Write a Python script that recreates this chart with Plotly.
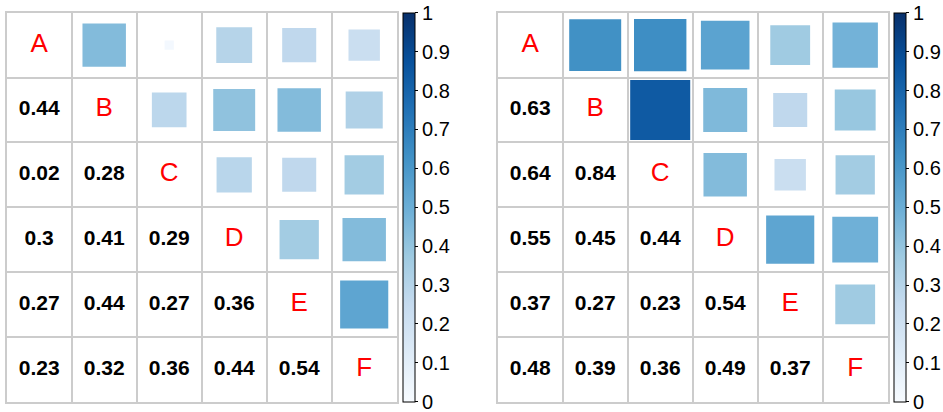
import math
import plotly.graph_objects as go

labels = ["A", "B", "C", "D", "E", "F"]

# lower-triangle correlation values (row i, columns 0..i-1)
left_lower = [
    [],
    [0.44],
    [0.02, 0.28],
    [0.30, 0.41, 0.29],
    [0.27, 0.44, 0.27, 0.36],
    [0.23, 0.32, 0.36, 0.44, 0.54],
]
right_lower = [
    [],
    [0.63],
    [0.64, 0.84],
    [0.55, 0.45, 0.44],
    [0.37, 0.27, 0.23, 0.54],
    [0.48, 0.39, 0.36, 0.49, 0.37],
]

cbar_ticks = [0, 0.1, 0.2, 0.3, 0.4, 0.5, 0.6, 0.7, 0.8, 0.9, 1]
cbar_text = ["0", "0.1", "0.2", "0.3", "0.4", "0.5", "0.6", "0.7", "0.8", "0.9", "1"]

blues = ["#F7FBFF", "#DEEBF7", "#C6DBEF", "#9ECAE1", "#6BAED6",
         "#4292C6", "#2171B5", "#08519C", "#08306B"]
colorscale = [[i / (len(blues) - 1), c] for i, c in enumerate(blues)]

W, H = 943, 412
CELL_PX = 65.5
FONT = "Liberation Sans, Arial, sans-serif"

fig = go.Figure()

panels = [
    (left_lower, "x", "y", "coloraxis"),
    (right_lower, "x2", "y2", "coloraxis2"),
]

for lower, xa, ya, cax in panels:
    # upper triangle squares (mirror of lower)
    sx, sy, sv, ss = [], [], [], []
    for i, row in enumerate(lower):
        for j, v in enumerate(row):
            sx.append(i + 1)
            sy.append(j + 1)
            sv.append(v)
            ss.append(math.sqrt(abs(v)) * CELL_PX)
    fig.add_trace(go.Scatter(
        x=sx, y=sy, mode="markers", xaxis=xa, yaxis=ya, hoverinfo="skip",
        marker=dict(symbol="square", size=ss, color=sv, coloraxis=cax, opacity=1,
                    line=dict(width=0)),
        showlegend=False,
    ))
    # lower triangle numbers
    tx, ty, tt = [], [], []
    for i, row in enumerate(lower):
        for j, v in enumerate(row):
            tx.append(j + 1)
            ty.append(i + 1)
            tt.append(f"{v:g}")
    fig.add_trace(go.Scatter(
        x=tx, y=ty, text=tt, mode="text", xaxis=xa, yaxis=ya, hoverinfo="skip",
        textfont=dict(family=FONT, size=21, color="black", weight="bold"),
        showlegend=False,
    ))
    # diagonal labels
    fig.add_trace(go.Scatter(
        x=list(range(1, len(labels) + 1)), y=list(range(1, len(labels) + 1)),
        text=labels, mode="text", xaxis=xa, yaxis=ya, hoverinfo="skip",
        textfont=dict(family=FONT, size=26, color="red"),
        showlegend=False,
    ))

ydom = [1 - 401.7 / H, 1 - 12.7 / H]

def axis(domain, anchor):
    return dict(domain=domain, anchor=anchor, range=[0.5, 6.5], tick0=0.5, dtick=1,
                showgrid=True, gridcolor="#cccccc", gridwidth=1.5, zeroline=False,
                showticklabels=False, ticks="", showline=True, linecolor="#cccccc",
                linewidth=1.5, mirror=True, fixedrange=True)

def yaxis(anchor):
    d = axis(ydom, anchor)
    d["range"] = [6.5, 0.5]
    return d

def cbar(xpx):
    return dict(x=xpx / W, xanchor="left", y=1 - 12.7 / H, yanchor="top",
                len=389 / H, lenmode="fraction", thickness=12, thicknessmode="pixels",
                outlinecolor="black", outlinewidth=1, xpad=0, ypad=0,
                tickvals=cbar_ticks, ticktext=cbar_text, ticks="outside", ticklen=3,
                ticklabeloverflow="allow",
                tickcolor="black", tickfont=dict(family=FONT, size=20, color="black"))

fig.update_layout(
    width=W, height=H, margin=dict(l=0, r=0, t=0, b=0, autoexpand=False),
    paper_bgcolor="white", plot_bgcolor="white",
    xaxis=axis([6.7 / W, 396.7 / W], "y"),
    yaxis=yaxis("x"),
    xaxis2=axis([497.7 / W, 887.7 / W], "y2"),
    yaxis2=yaxis("x2"),
    coloraxis=dict(colorscale=colorscale, cmin=0, cmax=1, colorbar=cbar(403)),
    coloraxis2=dict(colorscale=colorscale, cmin=0, cmax=1, colorbar=cbar(894)),
)

fig.write_html("out.html", config={"displayModeBar": False},
               post_script="document.body.style.margin='0px';document.body.style.overflow='hidden';")
